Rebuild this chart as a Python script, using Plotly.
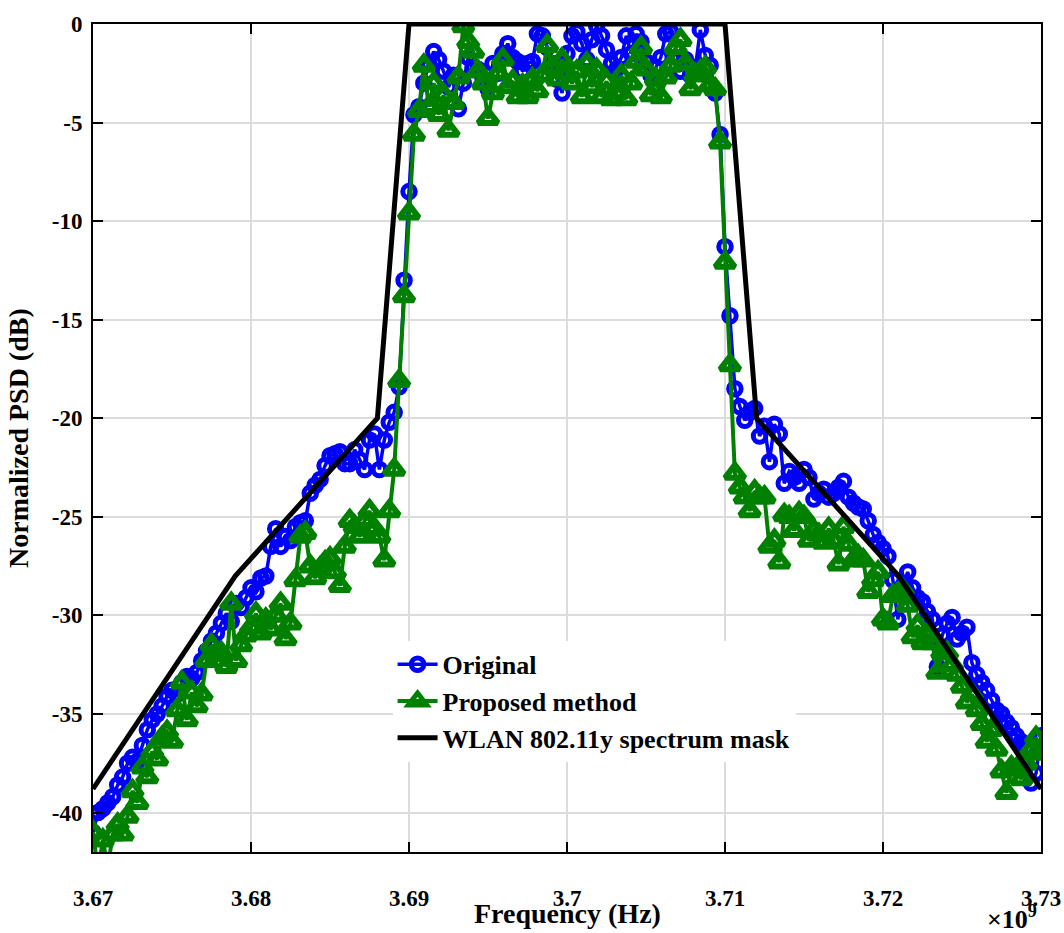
import numpy as np
import plotly.graph_objects as go

# ---------------- data ----------------
f_start_hz = 3.67e9
f_step_hz = 0.3125e6
n_points = 193

original_db = [
    -41.0, -40.0, -39.8, -39.5, -39.2, -38.6, -38.2, -37.5, -37.2, -37.4,
    -36.6, -35.8, -35.3, -35.0, -34.6, -34.1, -33.8, -34.0, -33.4, -33.1,
    -33.2, -32.9, -32.3, -31.8, -31.3, -30.9, -30.4, -29.9, -30.3, -29.4,
    -29.6, -29.1, -28.6, -28.8, -28.1, -28.0, -26.5, -25.6, -26.5, -26.0,
    -26.2, -25.5, -25.3, -25.2, -23.8, -23.4, -23.1, -22.4, -21.9, -21.8,
    -21.7, -22.3, -22.3, -21.6, -22.1, -22.6, -21.1, -20.8, -22.6, -21.1,
    -20.2, -19.7, -18.4, -13.0, -8.5, -4.6,
    -4.2, -3.0, -2.0, -1.4, -1.8, -2.4, -3.2, -2.6, -4.3, -3.0,
    -1.7, -2.2, -2.3, -2.8, -3.3, -2.0, -2.5, -1.5, -1.0, -1.7,
    -1.9, -2.4, -2.0, -1.9, -0.5, -0.6, -1.2, -2.0, -2.8, -3.5,
    -1.5, -0.6, -0.4, -1.0, -1.8, -0.8, -0.1, -0.6, -1.3, -2.0,
    -2.3, -1.7, -0.6, -1.5, -0.5, -0.9, -1.9, -2.6, -2.2, -1.7,
    -0.5, -0.4, -1.2, -2.4, -1.8, -2.6, -2.2, -0.3, -1.6, -2.1,
    -3.5,
    -5.6, -11.3, -14.8, -18.5, -19.4, -20.1, -19.7, -19.5, -20.9, -20.4,
    -22.2, -20.3, -20.8, -23.3, -22.7, -23.0, -23.3, -22.6, -23.0, -24.1,
    -23.8, -23.6, -24.0, -23.8, -23.5, -23.2, -24.0, -24.3, -24.5, -24.6,
    -25.2, -25.9, -26.3, -26.6, -27.0, -28.2, -30.2, -28.5, -27.8, -28.6,
    -29.1, -29.3, -29.8, -30.2, -32.6, -31.0, -30.4, -30.1, -31.2, -30.9,
    -30.6, -32.4, -33.0, -33.4, -33.8, -34.3, -34.8, -35.0, -35.4, -35.7,
    -36.1, -36.4, -36.7, -38.5, -38.0, -36.1,
]

proposed_db = [
    -41.0, -43.0, -41.4, -42.8, -41.1, -40.6, -41.1, -40.2, -38.9, -39.5,
    -37.7, -38.2, -36.9, -37.3, -36.2, -35.9, -36.4, -34.8, -33.4, -35.3,
    -33.9, -34.6, -34.0, -32.3, -31.5, -32.0, -31.9, -32.6, -29.4, -32.3,
    -31.5, -31.0, -30.6, -29.9, -30.9, -30.2, -30.7, -30.0, -29.4, -31.2,
    -30.4, -28.2, -26.0, -25.8, -27.5, -28.1, -27.6, -27.3, -27.1, -27.8,
    -28.5, -26.5, -25.2, -25.5, -26.0, -25.2, -24.7, -25.6, -26.0, -27.2,
    -24.7, -22.6, -18.1, -13.8, -9.6, -5.6,
    -4.4, -2.1, -4.2, -3.0, -4.6, -3.6, -5.4, -4.0, -2.7, -0.1,
    -0.9, -1.4, -2.4, -3.0, -4.8, -3.5, -2.5, -1.8, -3.2, -2.9,
    -3.7, -3.1, -3.7, -2.8, -3.4, -2.6, -1.1, -2.2, -2.8, -1.8,
    -2.5, -3.0, -2.4, -3.7, -2.0, -3.2, -2.3, -3.7, -2.9, -3.8,
    -3.5, -2.6, -3.8, -3.0, -1.9, -1.2, -2.3, -3.6, -2.8, -3.7,
    -2.7, -2.1, -1.2, -0.8, -2.0, -3.3, -2.6, -2.4, -2.2, -3.1,
    -3.3,
    -6.0, -12.1, -17.3, -22.8, -23.5, -24.0, -24.7, -23.7, -24.0, -24.0,
    -26.5, -26.2, -27.3, -24.9, -25.0, -25.7, -24.8, -25.0, -26.2, -25.7,
    -25.9, -26.3, -25.6, -26.2, -27.4, -25.5, -26.4, -27.2, -27.0, -27.2,
    -28.8, -28.2, -27.8, -30.2, -30.4, -29.0, -28.9, -28.7, -29.5, -31.1,
    -30.5, -31.4, -31.0, -31.4, -32.9, -31.9, -31.9, -32.5, -33.0, -33.6,
    -34.4, -34.0, -34.8, -35.5, -36.4, -35.8, -36.8, -37.9, -39.0, -37.7,
    -37.8, -38.3, -37.5, -36.8, -36.2, -37.0,
]

mask_freq_hz = [3.670e9, 3.679e9, 3.688e9, 3.690e9, 3.710e9, 3.712e9, 3.721e9, 3.730e9]
mask_db = [-38.8, -28.0, -20.0, 0.0, 0.0, -20.0, -28.0, -38.8]

x_tick_vals = [3.67e9, 3.68e9, 3.69e9, 3.70e9, 3.71e9, 3.72e9, 3.73e9]
x_tick_text = ["3.67", "3.68", "3.69", "3.7", "3.71", "3.72", "3.73"]
y_tick_vals = [0, -5, -10, -15, -20, -25, -30, -35, -40]
y_tick_text = ["0", "-5", "-10", "-15", "-20", "-25", "-30", "-35", "-40"]

freq_hz = f_start_hz + f_step_hz * np.arange(n_points)

# ---------------- figure ----------------
FONT = "Liberation Serif"
W, H = 1064, 933
ML, MR, MT, MB = 93, 23, 24, 81
PW = W - ML - MR
PH = H - MT - MB
BOTTOM = MT + PH

fig = go.Figure()
fig.add_trace(go.Scatter(
    x=freq_hz, y=original_db, name="Original", mode="lines+markers",
    line=dict(color="#0000ff", width=3.5),
    marker=dict(symbol="circle-open", size=12.5, color="#0000ff",
                line=dict(color="#0000ff", width=5)),
))
fig.add_trace(go.Scatter(
    x=freq_hz, y=proposed_db, name="Proposed method", mode="lines+markers",
    line=dict(color="#008000", width=4),
    marker=dict(symbol="triangle-up-open", size=17, color="#008000",
                line=dict(color="#008000", width=6)),
))
fig.add_trace(go.Scatter(
    x=mask_freq_hz, y=mask_db, name="WLAN 802.11y spectrum mask", mode="lines",
    line=dict(color="#000000", width=5),
))

axis_common = dict(
    showline=True, linecolor="black", linewidth=2, mirror="ticks",
    ticks="inside", ticklen=10, tickwidth=2, tickcolor="black",
    showgrid=True, gridcolor="#dcdcdc", gridwidth=1.5, zeroline=False,
    automargin=False,
    tickfont=dict(family=FONT, size=23, color="black", weight="bold"),
)

fig.update_xaxes(
    range=[3.67e9, 3.73e9], tickvals=x_tick_vals, ticktext=x_tick_text,
    ticklabelstandoff=24,
    **axis_common,
)
fig.update_yaxes(
    range=[-42, 0], tickvals=y_tick_vals, ticktext=y_tick_text,
    ticklabelstandoff=4,
    **axis_common,
)

title_font = dict(family=FONT, size=28, color="black", weight="bold")
# x axis title
fig.add_annotation(
    xref="paper", yref="paper", x=0.5, y=0, xanchor="center", yanchor="middle",
    yshift=-(913 - BOTTOM), showarrow=False,
    text="Frequency (Hz)", font=title_font,
)
# y axis title
fig.add_annotation(
    xref="paper", yref="paper", x=0, y=0.5, xanchor="center", yanchor="middle",
    xshift=-(ML - 18), showarrow=False, textangle=-90,
    text="Normalized PSD (dB)", font=title_font,
)
# exponent label
fig.add_annotation(
    xref="paper", yref="paper", x=1.0, y=0, xanchor="right", yanchor="middle",
    yshift=-(917 - BOTTOM), xshift=-2, showarrow=False,
    text="×10<sup>9</sup>",
    font=dict(family=FONT, size=26, color="black", weight="bold"),
)

fig.update_layout(
    width=W, height=H,
    margin=dict(l=ML, r=MR, t=MT, b=MB),
    plot_bgcolor="white", paper_bgcolor="white",
    showlegend=True,
    legend=dict(
        x=0.316, y=0.255, xanchor="left", yanchor="top",
        bgcolor="white", borderwidth=0,
        font=dict(family=FONT, size=26, color="black", weight="bold"),
        tracegroupgap=0, itemwidth=40,
    ),
)

fig.write_html("out.html", config={"displayModeBar": False},
               post_script="document.body.style.margin='0';")
